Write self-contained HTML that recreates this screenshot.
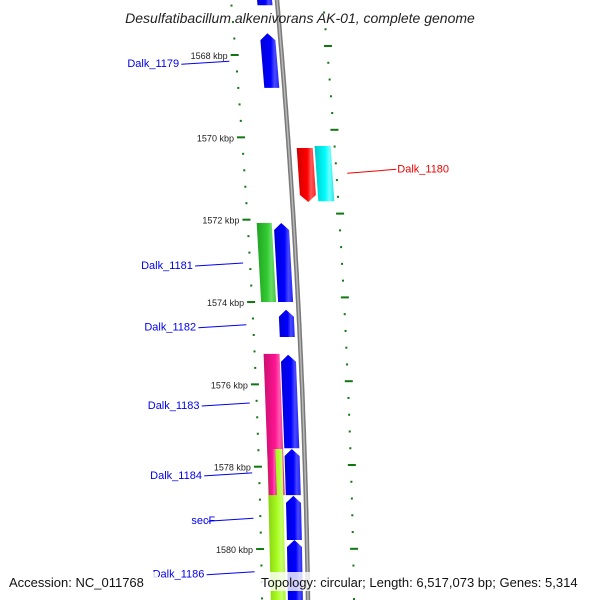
<!DOCTYPE html>
<html><head><meta charset="utf-8"><style>
html,body{margin:0;padding:0;background:#fff}
svg{display:block;font-family:"Liberation Sans","DejaVu Sans",sans-serif}
</style></head><body>
<svg id="chart" width="600" height="600" viewBox="0 0 600 600" xmlns="http://www.w3.org/2000/svg">
<defs>
<linearGradient id="g-blue" x1="0" x2="1" y1="0" y2="0"><stop offset="0" stop-color="#0000d8"/><stop offset="0.55" stop-color="#0000ff"/><stop offset="0.75" stop-color="#4a4aff"/><stop offset="1" stop-color="#2020ff"/></linearGradient>
<linearGradient id="g-red" x1="0" x2="1"><stop offset="0" stop-color="#d00000"/><stop offset="0.55" stop-color="#ff0000"/><stop offset="0.75" stop-color="#ff5a5a"/><stop offset="1" stop-color="#ff2020"/></linearGradient>
<linearGradient id="g-cyan" x1="0" x2="1"><stop offset="0" stop-color="#00c8c8"/><stop offset="0.55" stop-color="#00ffff"/><stop offset="0.75" stop-color="#70ffff"/><stop offset="1" stop-color="#20e8e8"/></linearGradient>
<linearGradient id="g-green" x1="0" x2="1"><stop offset="0" stop-color="#22a022"/><stop offset="0.55" stop-color="#33cc33"/><stop offset="0.75" stop-color="#66dd66"/><stop offset="1" stop-color="#44c444"/></linearGradient>
<linearGradient id="g-pink" x1="0" x2="1"><stop offset="0" stop-color="#c8106e"/><stop offset="0.55" stop-color="#ff1493"/><stop offset="0.75" stop-color="#ff5aae"/><stop offset="1" stop-color="#f02090"/></linearGradient>
<linearGradient id="g-lime" x1="0" x2="1"><stop offset="0" stop-color="#88cc10"/><stop offset="0.55" stop-color="#aaff22"/><stop offset="0.75" stop-color="#c8ff70"/><stop offset="1" stop-color="#a0f020"/></linearGradient>
</defs>
<g id="ticks"></g>
<g id="backbone"></g>
<g id="features"></g>
<g id="labels"></g>
<text x="300" y="23" text-anchor="middle" font-size="14" font-style="italic" fill="#222">Desulfatibacillum alkenivorans AK-01, complete genome</text>
<rect x="6" y="572" width="152" height="19" fill="#fff" opacity="0.8"/>
<text x="9" y="587" font-size="13" fill="#111">Accession: NC_011768</text>
<rect x="258" y="572" width="336" height="19" fill="#fff" opacity="0.8"/>
<text x="261" y="587" font-size="13" fill="#111">Topology: circular; Length: 6,517,073 bp; Genes: 5,314</text>
</svg>
<script>
// data
const featureStarts = [1566.4, 1567.47, 1570.26, 1570.21, 1572.08, 1572.08, 1574.19, 1575.26, 1575.28, 1577.57, 1577.57, 1578.71, 1579.78];
const featureEnds   = [1566.79, 1568.80, 1571.57, 1571.55, 1574.00, 1574.00, 1574.85, 1578.69, 1577.55, 1581.8, 1578.69, 1579.78, 1581.8];
const featureTypes  = ['blue','blue','red','cyan','green','blue','blue','pink','blue','lime','blue','blue','blue'];
const geneLabels = ['Dalk_1179','Dalk_1180','Dalk_1181','Dalk_1182','Dalk_1183','Dalk_1184','secF','Dalk_1186'];
const labelKbp   = [1568.2, 1570.8, 1573.1, 1574.6, 1576.5, 1578.2, 1579.3, 1580.6];
const labelSide  = ['left','right','left','left','left','left','left','left'];
const tickStart = 1566.8, tickEnd = 1581.6, tickStep = 0.4;
const majorTicks = [1568, 1570, 1572, 1574, 1576, 1578, 1580];

const NS = 'http://www.w3.org/2000/svg';
function yL(k){ return 55 + (k - 1568) * 41.17; }
function yR(k){ return 46 + (k - 1568) * 41.9; }
function cx(y){ return 277 + 0.0883 * y - 6.1e-5 * y * y; }
const lanes = {
  blue:{o1:-20,o2:-5,dir:'up'}, red:{o1:8,o2:24,dir:'down'}, cyan:{o1:26,o2:42,dir:'none'},
  green:{o1:-37,o2:-22,dir:'none'}, pink:{o1:-37,o2:-21,dir:'none'}, lime:{o1:-37,o2:-22,dir:'none'}
};
function mk(tag, attrs, parent){ const e=document.createElementNS(NS,tag); for(const k in attrs) e.setAttribute(k,attrs[k]); parent.appendChild(e); return e; }

// ticks
const tg = document.getElementById('ticks');
const nT = Math.round((tickEnd - tickStart) / tickStep);
for (let i=0;i<=nT;i++){
  const k = tickStart + i*tickStep;
  const major = majorTicks.some(m => Math.abs(m-k) < 0.05);
  const y1 = yL(k), y2 = yR(k);
  const l = mk('line', {x1: cx(y1)-(major?51:47), x2: cx(y1)-(major?43:45), y1:y1, y2:y1, stroke:'#117711', 'stroke-width':2}, tg);
  
  
  const r = mk('line', {x1: cx(y2)+(major?43:45), x2: cx(y2)+(major?51:47), y1:y2, y2:y2, stroke:'#117711', 'stroke-width':2}, tg);
  
  
}
majorTicks.forEach(m => {
  const y = yL(m);
  const t = mk('text', {x: cx(y)-54, y: y+4, 'text-anchor':'end', 'font-size':9, fill:'#222'}, tg);
  
  
  t.textContent = m + ' kbp';
});

// backbone
const bb = document.getElementById('backbone');
let pts = [];
for (let y=-5;y<=605;y+=5) pts.push(cx(y).toFixed(1)+','+y);
const b1 = mk('polyline', {points: pts.join(' '), fill:'none', stroke:'#7a7a7a', 'stroke-width':4.5}, bb);


const b2 = mk('polyline', {points: pts.join(' '), fill:'none', stroke:'#b8b8b8', 'stroke-width':1.5}, bb);



// features
const fg = document.getElementById('features');
featureTypes.forEach((t, i) => {
  const ln = lanes[t];
  const y1 = yL(featureStarts[i]), y2 = yL(featureEnds[i]);
  let o1 = ln.o1, o2 = ln.o2;
  if (t==='pink' && i===10) {}
  const p = [];
  const A = 7;
  if (ln.dir==='up') {
    const ym = (y1+A);
    p.push([cx(y2)+o1,y2],[cx(ym)+o1,ym],[cx(y1)+(o1+o2)/2,y1],[cx(ym)+o2,ym],[cx(y2)+o2,y2]);
  } else if (ln.dir==='down') {
    const ym = (y2-A);
    p.push([cx(y1)+o1,y1],[cx(y1)+o2,y1],[cx(ym)+o2,ym],[cx(y2)+(o1+o2)/2,y2],[cx(ym)+o1,ym]);
  } else {
    p.push([cx(y1)+o1,y1],[cx(y1)+o2,y1],[cx(y2)+o2,y2],[cx(y2)+o1,y2]);
  }
  const poly = mk('polygon', {points: p.map(q=>q[0].toFixed(1)+','+q[1].toFixed(1)).join(' '), fill:'url(#g-'+t+')'}, fg);
  
  
});
// pink overlapping lime portion (drawn over lime, left part)
(function(){
  const y1 = yL(1577.57), y2 = yL(1578.69);
  const p = [[cx(y1)-37,y1],[cx(y1)-29,y1],[cx(y2)-29,y2],[cx(y2)-37,y2]];
  const poly = mk('polygon', {points: p.map(q=>q[0].toFixed(1)+','+q[1].toFixed(1)).join(' '), fill:'url(#g-pink)'}, fg);
  
  
})();

// labels
const lg = document.getElementById('labels');
geneLabels.forEach((name, i) => {
  const y = yL(labelKbp[i]);
  if (labelSide[i]==='left') {
    const xe = cx(y) - 53;
    const txt = mk('text', {x: xe - 102 + (name.length<6?40:0), y: y+4, 'font-size':11, fill:'#0000ee'}, lg);
    
    
    txt.textContent = name;
    const startX = name.length<6 ? xe-46 : xe-48;
    const l = mk('line', {x1:startX, y1:y+1, x2:xe, y2:y-2, stroke:'#0000ee', 'stroke-width':1}, lg);
    
    
  } else {
    const xs = cx(y) + 57;
    const l = mk('line', {x1:xs, y1:y+3, x2:xs+49, y2:y-1, stroke:'#ee0000', 'stroke-width':1}, lg);
    
    
    const txt = mk('text', {x: xs+50, y: y+2, 'font-size':11, fill:'#ee0000'}, lg);
    
    
    txt.textContent = name;
  }
});
</script>
</body></html>
